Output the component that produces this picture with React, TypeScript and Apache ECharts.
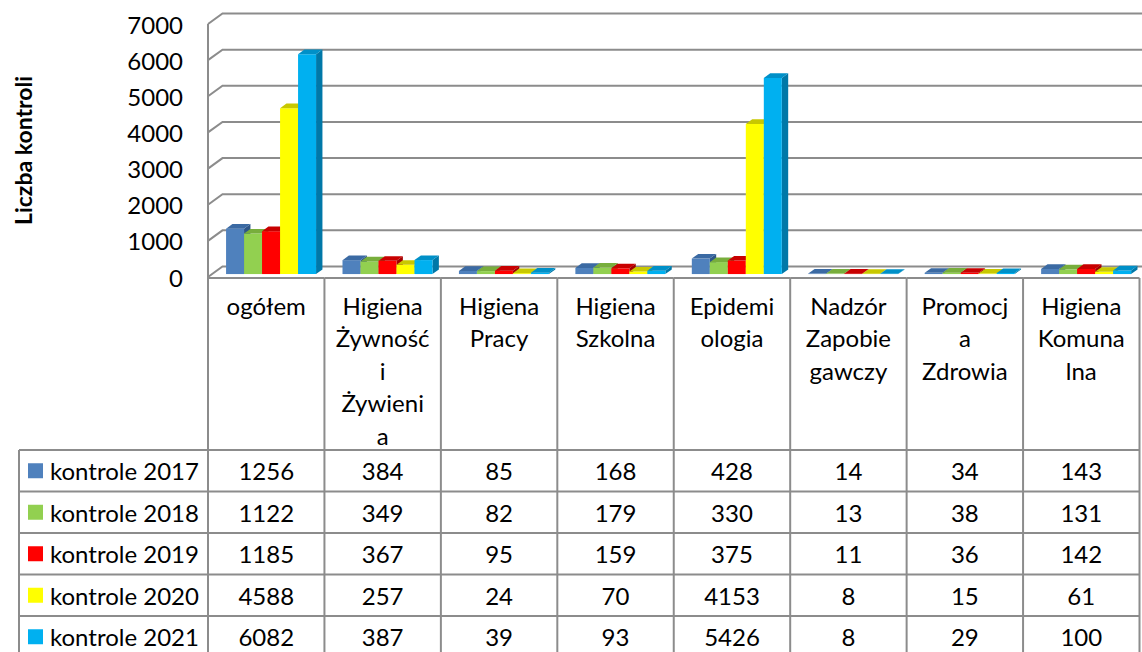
import React, { useEffect, useRef } from "react";
import * as echarts from "echarts";

// ---------- data ----------
const categories = [
  "ogółem",
  "Higiena\nŻywność\ni\nŻywieni\na",
  "Higiena\nPracy",
  "Higiena\nSzkolna",
  "Epidemi\nologia",
  "Nadzór\nZapobie\ngawczy",
  "Promocj\na\nZdrowia",
  "Higiena\nKomuna\nlna",
];
const seriesNames = ["kontrole 2017", "kontrole 2018", "kontrole 2019", "kontrole 2020", "kontrole 2021"];
const k2017 = [1256, 384, 85, 168, 428, 14, 34, 143];
const k2018 = [1122, 349, 82, 179, 330, 13, 38, 131];
const k2019 = [1185, 367, 95, 159, 375, 11, 36, 142];
const k2020 = [4588, 257, 24, 70, 4153, 8, 15, 61];
const k2021 = [6082, 387, 39, 93, 5426, 8, 29, 100];
const seriesValues = [k2017, k2018, k2019, k2020, k2021];
const yTicks = [0, 1000, 2000, 3000, 4000, 5000, 6000, 7000];
const yAxisTitle = "Liczba kontroli";

// ---------- styles / layout ----------
const FONT = "Lato, 'Open Sans', sans-serif";
const FS = 24;
const colors = ["#4F81BD", "#92D050", "#FF0000", "#FFFF00", "#00B0F0"];
const topColors = ["#3B6AA3", "#78AE3C", "#C80000", "#C8C800", "#0090C8"];
const sideColors = ["#2E5688", "#5E8E2C", "#A00000", "#A0A000", "#0078A8"];
const LINE = "#8C8C8C";
const W = 1142;
const H = 652;
const GRID_LEFT = 208;
const GRID_RIGHT_X = 1139.5;
const Y0 = 277;
const Y7000 = 24;
const DEPTH = [14.5, -10.5];
const F1 = 0.28;
const F2 = 0.72;
const TABLE_TOP = 278;
const ROW_LINES = [450, 491.5, 533, 574.5, 616, 657.5];
const TABLE_LEFT = 19;
const BAR_W = 18;
const BAR_OFFSET = 14;

export default function App() {
  const ref = useRef<HTMLDivElement>(null);
  useEffect(() => {
    if (!ref.current) return;
    const chart = echarts.init(ref.current, undefined, { renderer: "svg" });

    const gridSeries = {
      type: "custom",
      z: 1,
      silent: true,
      data: yTicks.map((v) => [0, v]),
      renderItem: (params: any, api: any) => {
        const y = api.coord([0, api.value(1)])[1];
        const left = params.coordSys.x;
        return {
          type: "polyline",
          shape: {
            points: [
              [left, y],
              [left + DEPTH[0], y + DEPTH[1]],
              [W + 2, y + DEPTH[1]],
            ],
          },
          style: { stroke: LINE, lineWidth: 2, fill: null },
        };
      },
    };

    const tableSeries = {
      type: "custom",
      z: 1,
      silent: true,
      data: categories.map((c, i) => [i, 0]),
      renderItem: (params: any, api: any) => {
        const i = api.value(0);
        const c = api.coord([i, 0]);
        const bw = api.size([1, 0])[0];
        const x0 = c[0] - bw / 2;
        const x1 = c[0] + bw / 2;
        const children: any[] = [];
        const topY = i === 0 ? params.coordSys.y : TABLE_TOP;
        children.push({
          type: "line",
          shape: { x1: x0, y1: topY, x2: x0, y2: H + 5 },
          style: { stroke: LINE, lineWidth: 2 },
        });
        if (i === categories.length - 1) {
          children.push({
            type: "line",
            shape: { x1: x1, y1: TABLE_TOP, x2: x1, y2: H + 5 },
            style: { stroke: LINE, lineWidth: 2 },
          });
        }
        [TABLE_TOP, ...ROW_LINES].forEach((yy) => {
          children.push({
            type: "line",
            shape: { x1: x0, y1: yy, x2: x1, y2: yy },
            style: { stroke: LINE, lineWidth: 2 },
          });
        });
        children.push({
          type: "text",
          x: c[0],
          y: 289,
          style: {
            text: categories[i],
            fontFamily: FONT,
            fontSize: FS,
            lineHeight: 32.5,
            fill: "#000",
            align: "center",
            verticalAlign: "top",
          },
        });
        return { type: "group", children };
      },
    };

    const barSeries = seriesValues.map((vals, s) => ({
      type: "custom",
      name: seriesNames[s],
      z: 2,
      data: vals.map((v, i) => [i, v]),
      renderItem: (params: any, api: any) => {
        const i = api.value(0);
        const v = api.value(1);
        const c = api.coord([i, 0]);
        const bw = api.size([1, 0])[0];
        const colStart = c[0] - bw / 2;
        const yTopRaw = api.coord([i, v])[1];
        const fx = DEPTH[0] * F1;
        const fy = DEPTH[1] * F1;
        const dx = DEPTH[0] * (F2 - F1);
        const dy = DEPTH[1] * (F2 - F1);
        const x0 = colStart + BAR_OFFSET + s * BAR_W + fx;
        const x1 = x0 + BAR_W;
        const yb = c[1] + fy;
        const yt = yTopRaw + fy;
        const rowC = (ROW_LINES[s] + ROW_LINES[s + 1]) / 2;
        return {
          type: "group",
          children: [
            {
              type: "polygon",
              shape: { points: [[x1, yt], [x1 + dx, yt + dy], [x1 + dx, yb + dy], [x1, yb]] },
              style: { fill: sideColors[s] },
            },
            {
              type: "rect",
              shape: { x: x0, y: yt, width: BAR_W, height: Math.max(0, yb - yt) },
              style: { fill: colors[s] },
            },
            {
              type: "polygon",
              shape: { points: [[x0, yt], [x1, yt], [x1 + dx, yt + dy], [x0 + dx, yt + dy]] },
              style: { fill: topColors[s] },
            },
            {
              type: "text",
              x: c[0],
              y: rowC,
              style: {
                text: String(v),
                fontFamily: FONT,
                fontSize: FS,
                fill: "#000",
                align: "center",
                verticalAlign: "middle",
              },
            },
          ],
        };
      },
    }));

    const graphic: any[] = [];
    ROW_LINES.forEach((yy) => {
      graphic.push({
        type: "line",
        shape: { x1: TABLE_LEFT, y1: yy, x2: GRID_LEFT, y2: yy },
        style: { stroke: LINE, lineWidth: 2 },
        silent: true,
      });
    });
    graphic.push({
      type: "line",
      shape: { x1: TABLE_LEFT, y1: ROW_LINES[0], x2: TABLE_LEFT, y2: H + 5 },
      style: { stroke: LINE, lineWidth: 2 },
      silent: true,
    });
    seriesNames.forEach((name, s) => {
      const rowC = (ROW_LINES[s] + ROW_LINES[s + 1]) / 2;
      graphic.push({
        type: "rect",
        shape: { x: 28, y: rowC - 7.5, width: 15, height: 15 },
        style: { fill: colors[s] },
        silent: true,
      });
      graphic.push({
        type: "text",
        x: 50,
        y: rowC,
        style: {
          text: name,
          fontFamily: FONT,
          fontSize: FS,
          fill: "#000",
          align: "left",
          verticalAlign: "middle",
        },
        silent: true,
      });
    });

    chart.setOption({
      animation: false,
      grid: {
        left: GRID_LEFT,
        right: W - GRID_RIGHT_X,
        top: Y7000,
        bottom: H - Y0,
        containLabel: false,
        outerBoundsMode: "none",
      },
      xAxis: {
        type: "category",
        data: categories,
        axisLine: { show: false },
        axisTick: { show: false },
        axisLabel: { show: false },
        splitLine: { show: false },
      },
      yAxis: {
        type: "value",
        min: 0,
        max: 7000,
        interval: 1000,
        name: yAxisTitle,
        nameLocation: "middle",
        nameRotate: 90,
        nameGap: 174,
        nameMoveOverlap: false,
        nameTextStyle: { fontFamily: FONT, fontSize: 23, fontWeight: "bold", color: "#000" },
        axisLine: { show: false },
        axisTick: { show: false },
        splitLine: { show: false },
        axisLabel: {
          fontFamily: FONT,
          fontSize: FS,
          color: "#000",
          margin: 25,
          formatter: (v: number) => String(v),
        },
      },
      graphic,
      series: [gridSeries, tableSeries, ...barSeries],
    });
    return () => chart.dispose();
  }, []);
  return (
    <div
      ref={ref}
      style={{ position: "fixed", left: 0, top: 0, width: W, height: H, background: "#fff" }}
    />
  );
}
